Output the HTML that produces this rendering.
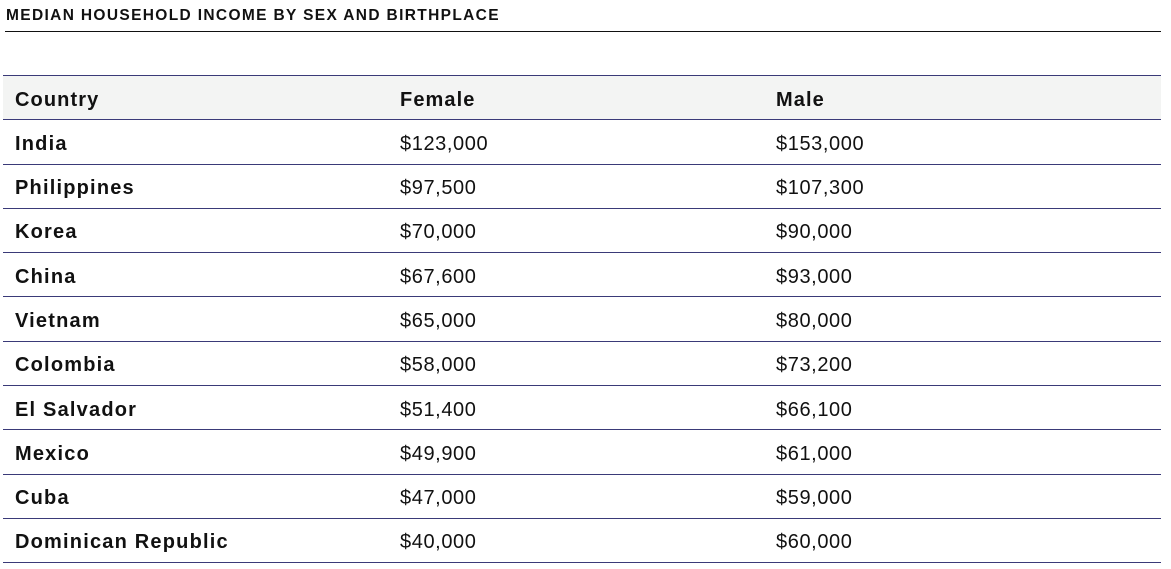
<!DOCTYPE html>
<html><head><meta charset="utf-8"><style>
body{margin:0;width:1171px;height:569px;background:#fff;font-family:"Liberation Sans",sans-serif;color:#111;position:relative;overflow:hidden}
#title{position:absolute;left:6px;top:7px;font-size:15.5px;font-weight:bold;letter-spacing:1.35px;color:#111}
#rule{position:absolute;left:5px;top:31px;width:1156px;height:1px;background:#111}
#table{position:absolute;left:3px;top:75px;width:1158px;border-top:1px solid #3a3a78}
.row{position:relative;height:43.3px;border-bottom:1px solid #3a3a78}
.row.head{background:#f3f4f3}
.cell{position:absolute;top:1.5px;line-height:44px;font-size:20px;letter-spacing:0.6px}
.c0{left:12px;font-weight:bold;letter-spacing:1.2px}
.c1{left:397px}.c2{left:773px}
.head .cell{font-weight:bold;letter-spacing:1.1px}
</style></head><body>
<div id="title">MEDIAN HOUSEHOLD INCOME BY SEX AND BIRTHPLACE</div>
<div id="rule"></div>
<div id="table">
<div class="row head">
<div class="cell c0">Country</div>
<div class="cell c1">Female</div>
<div class="cell c2">Male</div>
</div>
</div>
<script>
const countries=["India","Philippines","Korea","China","Vietnam","Colombia","El Salvador","Mexico","Cuba","Dominican Republic"];
const female=[123000,97500,70000,67600,65000,58000,51400,49900,47000,40000];
const male=[153000,107300,90000,93000,80000,73200,66100,61000,59000,60000];
const fmt=v=>"$"+v.toLocaleString("en-US");
const t=document.getElementById("table");
countries.forEach((c,i)=>{
const r=document.createElement("div");r.className="row";


const a=document.createElement("div");a.className="cell c0";a.textContent=c;


const b=document.createElement("div");b.className="cell c1";b.textContent=fmt(female[i]);


const d=document.createElement("div");d.className="cell c2";d.textContent=fmt(male[i]);


r.append(a,b,d);t.appendChild(r);
});
</script>
</body></html>
